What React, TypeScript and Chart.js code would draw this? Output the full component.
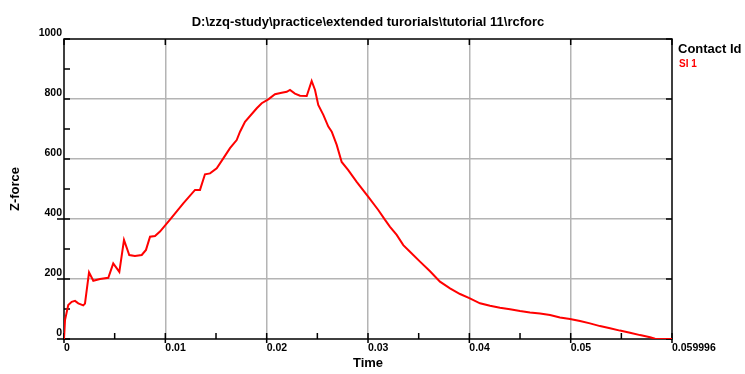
import { useEffect, useRef } from 'react';
import { Chart, registerables } from 'chart.js';

Chart.register(...registerables);

const TITLE = 'D:\\zzq-study\\practice\\extended turorials\\tutorial 11\\rcforc';
const X_TITLE = 'Time';
const Y_TITLE = 'Z-force';
const LEGEND_TITLE = 'Contact Id';
const SERIES_NAME = 'SI 1';

const TIME = [
  0, 0.0001, 0.00042, 0.00076, 0.00109, 0.00141, 0.0019, 0.00207, 0.00247, 0.00289,
  0.00355, 0.00437, 0.00486, 0.00546, 0.00592, 0.00644, 0.007, 0.00767, 0.00809, 0.00849,
  0.00898, 0.00947, 0.01046, 0.01177, 0.01293, 0.01342, 0.01391, 0.01441, 0.01507, 0.01572,
  0.01638, 0.01704, 0.01737, 0.01786, 0.01902, 0.01951, 0.02016, 0.02082, 0.02148, 0.02198,
  0.0223, 0.02279, 0.02329, 0.02395, 0.02444, 0.02477, 0.02509, 0.02559, 0.02608, 0.02642,
  0.02691, 0.0274, 0.02805, 0.02888, 0.03003, 0.03101, 0.03168, 0.03217, 0.03283, 0.03348,
  0.03414, 0.03513, 0.03612, 0.0371, 0.03809, 0.03908, 0.04, 0.04105, 0.04204, 0.04302,
  0.04401, 0.045, 0.04598, 0.04697, 0.04796, 0.04894, 0.04993, 0.05092, 0.0519, 0.05289,
  0.05388, 0.05486, 0.05585, 0.05684, 0.05783, 0.05832, 0.059996,
];

const FORCE = [
  0, 63, 113, 124, 127, 119, 112, 118, 222, 194,
  200, 204, 252, 224, 330, 280, 277, 280, 297, 341,
  343, 358, 398, 452, 497, 497, 549, 552, 569, 602,
  636, 663, 691, 724, 769, 786, 799, 816, 821, 824,
  830, 818, 811, 810, 860, 830, 780, 747, 708, 691,
  647, 590, 563, 524, 474, 430, 397, 374, 347, 313,
  291, 258, 226, 191, 169, 150, 136, 119, 111, 104,
  99, 93, 88, 85, 80, 72, 67, 60, 52, 43,
  36, 28, 21, 13, 6, 1, 0,
];

const X_TICKS = [0, 0.01, 0.02, 0.03, 0.04, 0.05, 0.059996];
const X_MINOR = [0.005, 0.015, 0.025, 0.035, 0.045, 0.055];
const Y_TICKS = [0, 200, 400, 600, 800, 1000];
const Y_MINOR = [100, 300, 500, 700, 900];
const Y_OUTER = [0, 200, 400];

const FONT = "'Liberation Sans', Arial, sans-serif";

const framePlugin = {
  id: 'frame',
  beforeDatasetsDraw(chart: any) {
    const { ctx, chartArea } = chart;
    const { left, right, top, bottom } = chartArea;
    const xs = chart.scales.x;
    const ys = chart.scales.y;
    ctx.save();
    ctx.strokeStyle = '#000';
    ctx.lineWidth = 1.5;
    ctx.beginPath();
    ctx.rect(left, top, right - left, bottom - top);
    ctx.stroke();
    ctx.lineWidth = 1.5;
    ctx.beginPath();
    for (const v of Y_TICKS) {
      const y = ys.getPixelForValue(v);
      ctx.moveTo(left, y); ctx.lineTo(left + 6, y);
      ctx.moveTo(right - 6, y); ctx.lineTo(right, y);
    }
    for (const v of Y_OUTER) {
      const y = ys.getPixelForValue(v);
      ctx.moveTo(left - 7, y); ctx.lineTo(left, y);
    }
    for (const v of Y_MINOR) {
      const y = ys.getPixelForValue(v);
      ctx.moveTo(left, y); ctx.lineTo(left + 6, y);
    }
    for (const v of X_TICKS) {
      const x = xs.getPixelForValue(v);
      ctx.moveTo(x, top); ctx.lineTo(x, top + 6);
      ctx.moveTo(x, bottom - 6); ctx.lineTo(x, bottom + 4);
    }
    for (const v of X_MINOR) {
      const x = xs.getPixelForValue(v);
      ctx.moveTo(x, bottom - 6); ctx.lineTo(x, bottom);
    }
    ctx.stroke();
    ctx.restore();
  },
  afterDraw(chart: any) {
    const { ctx, chartArea } = chart;
    ctx.save();
    ctx.fillStyle = '#000';
    ctx.font = `bold 13px ${FONT}`;
    ctx.textAlign = 'center';
    ctx.textBaseline = 'alphabetic';
    ctx.fillText(TITLE, (chartArea.left + chartArea.right) / 2, chartArea.top - 13);
    ctx.textAlign = 'left';
    ctx.fillText(LEGEND_TITLE, chartArea.right + 6, chartArea.top + 14);
    ctx.fillStyle = '#ff0000';
    ctx.font = `bold 10px ${FONT}`;
    ctx.fillText(SERIES_NAME, chartArea.right + 7, chartArea.top + 28);
    ctx.restore();
  },
};

export default function App() {
  const ref = useRef<HTMLCanvasElement | null>(null);
  useEffect(() => {
    if (!ref.current) return;
    const chart = new Chart(ref.current, {
      type: 'line',
      data: {
        datasets: [
          {
            label: SERIES_NAME,
            data: TIME.map((t, i) => ({ x: t, y: FORCE[i] })),
            borderColor: '#ff0000',
            borderWidth: 2,
            pointRadius: 0,
            tension: 0,
            fill: false,
          },
        ],
      },
      options: {
        animation: false,
        responsive: false,
        layout: { padding: { top: 39, right: 73, bottom: 0, left: 0 } },
        plugins: {
          legend: { display: false },
          title: { display: false },
          tooltip: { enabled: false },
        },
        scales: {
          x: {
            type: 'linear',
            min: 0,
            max: 0.059996,
            afterBuildTicks: (s: any) => {
              s.ticks = X_TICKS.map((v) => ({ value: v }));
            },
            afterFit: (s: any) => {
              s.height = 35;
            },
            ticks: {
              align: 'start',
              padding: 3,
              autoSkip: false,
              maxRotation: 0,
              color: '#000',
              font: { family: FONT, size: 10.5, weight: 'bold' },
              callback: (v: any) => String(v),
            },
            grid: {
              drawTicks: false,
              color: (c: any) =>
                c.tick && (c.tick.value === X_TICKS[0] || c.tick.value === X_TICKS[X_TICKS.length - 1])
                  ? 'rgba(0,0,0,0)'
                  : '#b4b4b4',
              lineWidth: 1.5,
            },
            border: { display: false },
            title: {
              display: true,
              text: X_TITLE,
              color: '#000',
              font: { family: FONT, size: 13, weight: 'bold' },
              padding: { top: 0, bottom: 3 },
            },
          },
          y: {
            type: 'linear',
            min: 0,
            max: 1000,
            afterBuildTicks: (s: any) => {
              s.ticks = Y_TICKS.map((v) => ({ value: v }));
            },
            afterFit: (s: any) => {
              s.width = 64;
            },
            ticks: {
              padding: 2,
              labelOffset: -6,
              autoSkip: false,
              color: '#000',
              font: { family: FONT, size: 10.5, weight: 'bold' },
              callback: (v: any) => String(v),
            },
            grid: {
              drawTicks: false,
              color: (c: any) =>
                c.tick && (c.tick.value === Y_TICKS[0] || c.tick.value === Y_TICKS[Y_TICKS.length - 1])
                  ? 'rgba(0,0,0,0)'
                  : '#b4b4b4',
              lineWidth: 1.5,
            },
            border: { display: false },
            title: {
              display: true,
              text: Y_TITLE,
              color: '#000',
              font: { family: FONT, size: 13, weight: 'bold' },
              padding: { top: 8, bottom: 0 },
            },
          },
        },
      },
      plugins: [framePlugin],
    } as any);
    return () => chart.destroy();
  }, []);
  return (
    <div style={{ position: 'fixed', left: 0, top: 0, width: 745, height: 374, background: '#fff' }}>
      <canvas ref={ref} width={745} height={374} style={{ display: 'block' }} />
    </div>
  );
}
